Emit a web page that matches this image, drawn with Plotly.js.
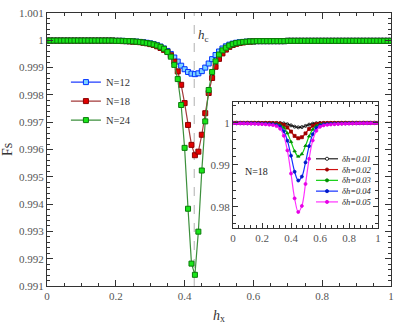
<!DOCTYPE html>
<html>
<head>
<meta charset="utf-8">
<script src="https://cdn.plot.ly/plotly-3.0.1.min.js"></script>
<style>
    html, body { margin: 0; padding: 0; background: #fff; }
    #plotly_graph { width: 415px; height: 327px; }
</style>
</head>
<body>
<div id="plotly_graph"></div>
<script>
// *********************************************************************************************
// DATA

// main panel: fidelity Fs against h_x for three chain lengths
const HX = [
    0.00, 0.01, 0.02, 0.03, 0.04, 0.05, 0.06, 0.07, 0.08, 0.09,
    0.10, 0.11, 0.12, 0.13, 0.14, 0.15, 0.16, 0.17, 0.18, 0.19,
    0.20, 0.21, 0.22, 0.23, 0.24, 0.25, 0.26, 0.27, 0.28, 0.29,
    0.30, 0.31, 0.32, 0.33, 0.34, 0.35, 0.36, 0.37, 0.38, 0.39,
    0.40, 0.41, 0.42, 0.43, 0.44, 0.45, 0.46, 0.47, 0.48, 0.49,
    0.50, 0.51, 0.52, 0.53, 0.54, 0.55, 0.56, 0.57, 0.58, 0.59,
    0.60, 0.61, 0.62, 0.63, 0.64, 0.65, 0.66, 0.67, 0.68, 0.69,
    0.70, 0.71, 0.72, 0.73, 0.74, 0.75, 0.76, 0.77, 0.78, 0.79,
    0.80, 0.81, 0.82, 0.83, 0.84, 0.85, 0.86, 0.87, 0.88, 0.89,
    0.90, 0.91, 0.92, 0.93, 0.94, 0.95, 0.96, 0.97, 0.98, 0.99,
    1.00
]

const FS_N12 = [
    0.99999, 0.99999, 0.99999, 0.99999, 0.99999, 0.99999, 0.99999, 0.99999, 0.99999, 0.99999,
    0.99999, 0.99999, 0.99999, 0.99999, 0.99999, 0.99999, 0.99999, 0.99999, 0.99999, 0.99999,
    0.99998, 0.99998, 0.99998, 0.99997, 0.99997, 0.99996, 0.99995, 0.99994, 0.99993, 0.99991,
    0.99989, 0.99986, 0.99982, 0.99977, 0.99970, 0.99961, 0.99950, 0.99937, 0.99922, 0.99907,
    0.99894, 0.99884, 0.99878, 0.99876, 0.99879, 0.99887, 0.99900, 0.99915, 0.99931, 0.99946,
    0.99959, 0.99970, 0.99978, 0.99984, 0.99988, 0.99991, 0.99993, 0.99994, 0.99995, 0.99996,
    0.99996, 0.99997, 0.99997, 0.99997, 0.99997, 0.99997, 0.99997, 0.99997, 0.99997, 0.99997,
    0.99998, 0.99998, 0.99998, 0.99998, 0.99998, 0.99998, 0.99998, 0.99998, 0.99998, 0.99998,
    0.99998, 0.99998, 0.99998, 0.99998, 0.99998, 0.99998, 0.99998, 0.99998, 0.99998, 0.99998,
    0.99998, 0.99998, 0.99998, 0.99998, 0.99998, 0.99998, 0.99998, 0.99998, 0.99998, 0.99998,
    0.99998
]

const FS_N18 = [
    0.99999, 0.99999, 0.99999, 0.99999, 0.99999, 0.99999, 0.99999, 0.99999, 0.99999, 0.99999,
    0.99999, 0.99999, 0.99999, 0.99999, 0.99999, 0.99999, 0.99999, 0.99999, 0.99999, 0.99999,
    0.99998, 0.99998, 0.99997, 0.99997, 0.99996, 0.99995, 0.99994, 0.99993, 0.99991, 0.99989,
    0.99986, 0.99983, 0.99978, 0.99972, 0.99965, 0.99958, 0.99945, 0.99922, 0.99886, 0.99837,
    0.99770, 0.99690, 0.99617, 0.99579, 0.99592, 0.99654, 0.99733, 0.99807, 0.99862, 0.99903,
    0.99932, 0.99952, 0.99966, 0.99976, 0.99983, 0.99987, 0.99990, 0.99992, 0.99994, 0.99995,
    0.99996, 0.99997, 0.99997, 0.99997, 0.99997, 0.99997, 0.99997, 0.99997, 0.99997, 0.99997,
    0.99998, 0.99998, 0.99998, 0.99998, 0.99998, 0.99998, 0.99998, 0.99998, 0.99998, 0.99998,
    0.99998, 0.99998, 0.99998, 0.99998, 0.99998, 0.99998, 0.99998, 0.99998, 0.99998, 0.99998,
    0.99998, 0.99998, 0.99998, 0.99998, 0.99998, 0.99998, 0.99998, 0.99998, 0.99998, 0.99998,
    0.99998
]

const FS_N24 = [
    0.99999, 0.99999, 0.99999, 0.99999, 0.99999, 0.99999, 0.99999, 0.99999, 0.99999, 0.99999,
    0.99999, 0.99999, 0.99999, 0.99999, 0.99999, 0.99999, 0.99999, 0.99999, 0.99999, 0.99999,
    0.99998, 0.99998, 0.99998, 0.99997, 0.99997, 0.99996, 0.99995, 0.99994, 0.99992, 0.99990,
    0.99988, 0.99985, 0.99981, 0.99976, 0.99969, 0.99957, 0.99940, 0.99910, 0.99858, 0.99763,
    0.99606, 0.99383, 0.99182, 0.99141, 0.99299, 0.99523, 0.99703, 0.99818, 0.99884, 0.99923,
    0.99948, 0.99963, 0.99973, 0.99981, 0.99986, 0.99990, 0.99992, 0.99994, 0.99995, 0.99996,
    0.99996, 0.99997, 0.99997, 0.99997, 0.99997, 0.99997, 0.99997, 0.99997, 0.99997, 0.99997,
    0.99998, 0.99998, 0.99998, 0.99998, 0.99998, 0.99998, 0.99998, 0.99998, 0.99998, 0.99998,
    0.99998, 0.99998, 0.99998, 0.99998, 0.99998, 0.99998, 0.99998, 0.99998, 0.99998, 0.99998,
    0.99998, 0.99998, 0.99998, 0.99998, 0.99998, 0.99998, 0.99998, 0.99998, 0.99998, 0.99998,
    0.99998
]

const MAIN_NAMES = ['N=12', 'N=18', 'N=24']

// inset: N=18 for five field steps dh
const HX_INSET = [
    0.000, 0.025, 0.050, 0.075, 0.100, 0.125, 0.150, 0.175, 0.200, 0.225,
    0.250, 0.275, 0.300, 0.325, 0.350, 0.375, 0.400, 0.425, 0.450, 0.475,
    0.500, 0.525, 0.550, 0.575, 0.600, 0.625, 0.650, 0.675, 0.700, 0.725,
    0.750, 0.775, 0.800, 0.825, 0.850, 0.875, 0.900, 0.925, 0.950, 0.975,
    1.000
]

const FS_DH01 = [
    0.99999, 0.99999, 0.99999, 0.99999, 0.99999, 0.99999, 0.99999, 0.99999, 0.99998, 0.99998,
    0.99998, 0.99997, 0.99996, 0.99993, 0.99984, 0.99966, 0.99938, 0.99907, 0.99891, 0.99898,
    0.99925, 0.99956, 0.99978, 0.99990, 0.99995, 0.99997, 0.99997, 0.99998, 0.99998, 0.99998,
    0.99999, 0.99999, 0.99999, 0.99999, 0.99999, 0.99999, 0.99999, 0.99999, 0.99999, 0.99999,
    0.99999
]

const FS_DH02 = [
    0.99998, 0.99998, 0.99997, 0.99997, 0.99997, 0.99996, 0.99996, 0.99995, 0.99994, 0.99993,
    0.99992, 0.99990, 0.99986, 0.99976, 0.99947, 0.99886, 0.99791, 0.99688, 0.99632, 0.99657,
    0.99748, 0.99851, 0.99927, 0.99967, 0.99983, 0.99989, 0.99991, 0.99993, 0.99994, 0.99995,
    0.99995, 0.99996, 0.99996, 0.99997, 0.99997, 0.99997, 0.99998, 0.99998, 0.99998, 0.99998,
    0.99998
]

const FS_DH03 = [
    0.99995, 0.99995, 0.99994, 0.99994, 0.99993, 0.99992, 0.99991, 0.99989, 0.99988, 0.99986,
    0.99983, 0.99979, 0.99970, 0.99947, 0.99885, 0.99754, 0.99547, 0.99326, 0.99200, 0.99258,
    0.99454, 0.99678, 0.99842, 0.99928, 0.99964, 0.99977, 0.99982, 0.99985, 0.99987, 0.99989,
    0.99990, 0.99991, 0.99992, 0.99993, 0.99994, 0.99995, 0.99995, 0.99996, 0.99996, 0.99996,
    0.99997
]

const FS_DH04 = [
    0.99992, 0.99991, 0.99990, 0.99989, 0.99987, 0.99986, 0.99984, 0.99982, 0.99978, 0.99975,
    0.99971, 0.99964, 0.99949, 0.99909, 0.99801, 0.99575, 0.99219, 0.98837, 0.98627, 0.98721,
    0.99059, 0.99445, 0.99728, 0.99876, 0.99938, 0.99960, 0.99968, 0.99974, 0.99978, 0.99980,
    0.99983, 0.99985, 0.99987, 0.99988, 0.99990, 0.99991, 0.99992, 0.99992, 0.99993, 0.99994,
    0.99994
]

const FS_DH05 = [
    0.99988, 0.99986, 0.99984, 0.99983, 0.99981, 0.99978, 0.99975, 0.99971, 0.99967, 0.99962,
    0.99955, 0.99945, 0.99921, 0.99859, 0.99693, 0.99344, 0.98794, 0.98204, 0.97881, 0.98025,
    0.98547, 0.99144, 0.99580, 0.99808, 0.99904, 0.99938, 0.99951, 0.99960, 0.99965, 0.99970,
    0.99974, 0.99977, 0.99980, 0.99982, 0.99984, 0.99986, 0.99987, 0.99988, 0.99989, 0.99990,
    0.99991
]

const INSET_NAMES = ['0.01', '0.02', '0.03', '0.04', '0.05']

const HC = 0.428
const HC_INSET = 0.445


// *********************************************************************************************
// STYLE

const SERIF = 'Liberation Serif, Times New Roman, serif'
const AXIS_COLOR = '#333'
const TICK_FONT = { family: SERIF, size: 11, color: '#555' }

const MAIN_LINE = ['#1f3dff', '#a33a3a', '#3c8f3c']
const MAIN_FILL = ['#7fd4ff', '#e10000', '#19e619']
const MAIN_EDGE = ['#0033ff', '#8a0000', '#0a7a0a']

const INSET_LINE = ['#222222', '#d01010', '#10d010', '#1530ff', '#ff33ff']
const INSET_MARK = ['#000000', '#a00000', '#008a00', '#0018c8', '#e600e6']
const INSET_SYMB = ['circle-open', 'square', 'triangle-up', 'circle', 'circle']


// *********************************************************************************************
// TRACES

let data = []

const mainY = [FS_N12, FS_N18, FS_N24]
mainY.forEach((ys, i) => {
    data.push({
        name: MAIN_NAMES[i],
        type: 'scatter',
        mode: 'lines+markers',
        x: HX,
        y: ys,
        xaxis: 'x',
        yaxis: 'y',
        line: { color: MAIN_LINE[i], width: 1.2 },
        marker: { symbol: 'square', size: 5, color: MAIN_FILL[i], line: { color: MAIN_EDGE[i], width: 1 } }
    })
})

const insetY = [FS_DH01, FS_DH02, FS_DH03, FS_DH04, FS_DH05]
insetY.forEach((ys, i) => {
    data.push({
        name: 'dh=' + INSET_NAMES[i],
        type: 'scatter',
        mode: 'lines+markers',
        x: HX_INSET,
        y: ys,
        xaxis: 'x2',
        yaxis: 'y2',
        showlegend: false,
        line: { color: INSET_LINE[i], width: 1.2, shape: 'spline' },
        marker: { symbol: INSET_SYMB[i], size: 3, color: INSET_MARK[i], line: { color: INSET_MARK[i], width: 0.8 } }
    })
})


// *********************************************************************************************
// LAYOUT

const baseAxis = {
    showline: true,
    linecolor: AXIS_COLOR,
    linewidth: 1,
    mirror: 'ticks',
    ticks: 'inside',
    tickcolor: AXIS_COLOR,
    showgrid: false,
    zeroline: false,
    tickfont: TICK_FONT
}

// inset legend is drawn by hand, Plotly's legend rows are too tall for it
const LEG2_X0 = 0.782
const LEG2_X1 = 0.846
const LEG2_TOP = 0.466
const LEG2_STEP = 0.0395

let shapes = [
    { type: 'line', xref: 'x', yref: 'y domain', x0: HC, x1: HC, y0: 0, y1: 1, layer: 'below',
      line: { color: '#b0b0b0', width: 1, dash: 'dash' } },
    { type: 'line', xref: 'x2', yref: 'y2 domain', x0: HC_INSET, x1: HC_INSET, y0: 0, y1: 1, layer: 'below',
      line: { color: '#b0b0b0', width: 1.5, dash: 'dash' } }
]

let annotations = [
    { xref: 'x', yref: 'y', x: HC + 0.004, y: 1.00018, xanchor: 'left', yanchor: 'middle', showarrow: false,
      text: '<i>h</i><sub>c</sub>', font: { family: SERIF, size: 13, color: '#333' } },
    { xref: 'x2', yref: 'y2', x: 0.165, y: 0.9884, xanchor: 'center', showarrow: false,
      text: 'N=18', font: { family: SERIF, size: 10, color: '#222' } }
]

INSET_NAMES.forEach((n, i) => {
    let yy = LEG2_TOP - i * LEG2_STEP
    let xm = (LEG2_X0 + LEG2_X1) / 2
    shapes.push({ type: 'line', xref: 'paper', yref: 'paper', x0: LEG2_X0, x1: LEG2_X1, y0: yy, y1: yy,
                  line: { color: INSET_LINE[i], width: 1.2 } })
    shapes.push({ type: 'circle', xref: 'paper', yref: 'paper',
                  x0: xm - 1.6 / 344, x1: xm + 1.6 / 344, y0: yy - 1.6 / 273, y1: yy + 1.6 / 273,
                  fillcolor: i === 0 ? '#fff' : INSET_MARK[i], line: { color: INSET_MARK[i], width: 0.8 } })
    annotations.push({ xref: 'paper', yref: 'paper', x: LEG2_X1 + 0.008, y: yy, xanchor: 'left', yanchor: 'middle',
                       showarrow: false, borderpad: 0, text: '<i>\u03b4h=' + n + '</i>',
                       font: { family: SERIF, size: 8.5, color: '#222' } })
})

let layout = {
    width: 415,
    height: 327,
    margin: { t: 13, r: 24, b: 41, l: 47 },
    paper_bgcolor: '#fff',
    plot_bgcolor: '#fff',
    font: { family: SERIF },
    showlegend: true,
    legend: {
        x: 0.055, y: 0.80, xanchor: 'left', yanchor: 'top',
        bgcolor: 'rgba(0,0,0,0)',
        font: { family: SERIF, size: 10.5, color: '#333' },
        itemwidth: 30
    },

    xaxis: Object.assign({}, baseAxis, {
        domain: [0, 1], anchor: 'y', range: [0, 1], tick0: 0, dtick: 0.2, ticklen: 6,
        minor: { dtick: 0.05, ticklen: 3, ticks: 'inside', tickcolor: AXIS_COLOR },
        title: { text: '<i>h</i><sub>x</sub>', font: { family: SERIF, size: 14, color: '#333' }, standoff: 8 }
    }),
    yaxis: Object.assign({}, baseAxis, {
        domain: [0, 1], anchor: 'x', range: [0.991, 1.001], tick0: 0.991, dtick: 0.001, ticklen: 6,
        minor: { dtick: 0.0002, ticklen: 3, ticks: 'inside', tickcolor: AXIS_COLOR },
        title: { text: 'Fs', font: { family: SERIF, size: 14, color: '#333' }, standoff: 6 }
    }),

    xaxis2: Object.assign({}, baseAxis, {
        domain: [0.5407, 0.9622], anchor: 'y2', range: [0, 1], tick0: 0, dtick: 0.2, ticklen: 5,
        minor: { dtick: 0.04, ticklen: 2.5, ticks: 'inside', tickcolor: AXIS_COLOR }
    }),
    yaxis2: Object.assign({}, baseAxis, {
        domain: [0.2125, 0.675], anchor: 'x2', range: [0.975, 1.005], tick0: 0.97, dtick: 0.01, ticklen: 5,
        minor: { dtick: 0.002, ticklen: 2.5, ticks: 'inside', tickcolor: AXIS_COLOR }
    }),

    shapes: shapes,
    annotations: annotations
}


// *********************************************************************************************
// CONFIG

const config = {
    displaylogo: false,
    displayModeBar: false,
    staticPlot: true
}


// *********************************************************************************************
// CREATE AND APPEND

Plotly.newPlot(document.getElementById('plotly_graph'), data, layout, config)
</script>
</body>
</html>
